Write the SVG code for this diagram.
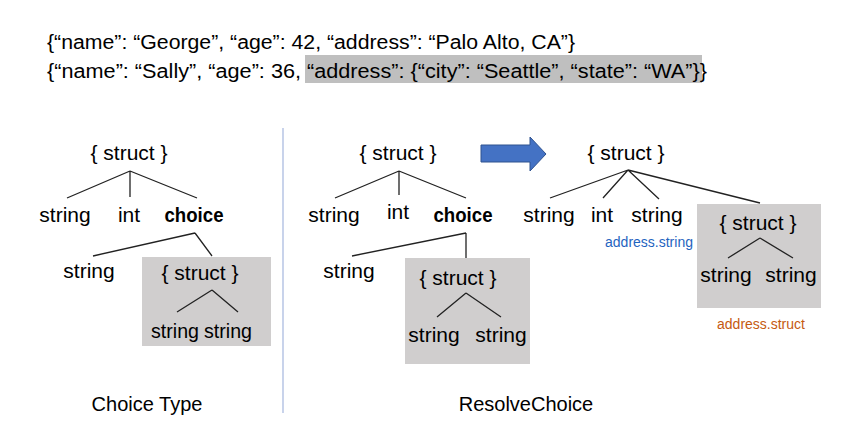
<svg xmlns="http://www.w3.org/2000/svg" width="863" height="442" viewBox="0 0 863 442">
<style>
text{font-family:"Liberation Sans",Arial,sans-serif;fill:#000}
.n{font-size:21px;text-anchor:middle}
.b{font-weight:bold}
.top{font-size:20px}
.lab{font-size:20px;text-anchor:middle}
.ann{font-size:14px;text-anchor:middle}
.box{fill:#D0CECE}
.ln{stroke:#222;stroke-width:1.3;fill:none}
</style>
<rect width="863" height="442" fill="#fff"/>
<g id="json">
<rect x="305" y="55" width="397" height="28" fill="#BFBFBF"/>
<text class="top" x="47" y="49" textLength="528" lengthAdjust="spacingAndGlyphs">{“name”: “George”, “age”: 42, “address”: “Palo Alto, CA”}</text>
<text class="top" x="47" y="78" textLength="660" lengthAdjust="spacingAndGlyphs">{“name”: “Sally”, “age”: 36, “address”: {“city”: “Seattle”, “state”: “WA”}}</text>
</g>
<line id="divider" x1="283" y1="128" x2="283" y2="413" stroke="#A4B6DE" stroke-width="1.2"/>
<g id="left-tree">
<g id="l-root"><text class="n" x="129" y="160">{ struct }</text></g>
<g id="l-string"><text class="n" x="65" y="222">string</text></g>
<g id="l-int"><text class="n" x="129" y="222">int</text></g>
<g id="l-choice"><text class="n b" x="194" y="222" textLength="59" lengthAdjust="spacingAndGlyphs">choice</text></g>
<g id="l-string2"><text class="n" x="89" y="278">string</text></g>
<g id="l-struct">
<rect class="box" x="142" y="257" width="129" height="89"/>
<text class="n" x="200" y="280">{ struct }</text>
<text class="n" x="175" y="338" textLength="48" lengthAdjust="spacingAndGlyphs">string</text>
<text class="n" x="228" y="338" textLength="48" lengthAdjust="spacingAndGlyphs">string</text>
</g>
</g>
<g id="mid-tree">
<g id="m-root"><text class="n" x="398" y="160">{ struct }</text></g>
<g id="m-string"><text class="n" x="334" y="222">string</text></g>
<g id="m-int"><text class="n" x="398" y="219">int</text></g>
<g id="m-choice"><text class="n b" x="463" y="222" textLength="59" lengthAdjust="spacingAndGlyphs">choice</text></g>
<g id="m-string2"><text class="n" x="349" y="278">string</text></g>
<g id="m-struct">
<rect class="box" x="405" y="258" width="125" height="106"/>
<text class="n" x="458" y="285">{ struct }</text>
<text class="n" x="434" y="342">string</text>
<text class="n" x="501" y="342">string</text>
</g>
</g>
<g id="arrow">
<polygon points="481,145 530,145 530,137 546,154 530,171 530,162 481,162" fill="#4472C4" stroke="#2F528F" stroke-width="1"/>
</g>
<g id="right-tree">
<g id="r-root"><text class="n" x="626" y="160">{ struct }</text></g>
<g id="r-string"><text class="n" x="549" y="222">string</text></g>
<g id="r-int"><text class="n" x="602" y="222">int</text></g>
<g id="r-string2"><text class="n" x="657" y="222">string</text>
<text class="ann" x="649" y="247" style="fill:#1F64C0">address.string</text></g>
<g id="r-struct">
<rect class="box" x="697" y="204" width="124" height="104"/>
<text class="n" x="758" y="230">{ struct }</text>
<text class="n" x="726" y="282">string</text>
<text class="n" x="791" y="282">string</text>
<text class="ann" x="761" y="329" style="fill:#C55A11">address.struct</text>
</g>
</g>
<g id="labels">
<text class="lab" x="147" y="411">Choice Type</text>
<text class="lab" x="526" y="411">ResolveChoice</text>
</g>
<g id="connectors" class="ln">
<path d="M130,171 L67,198 M130,171 L130,197 M130,171 L197,198 M195,233 L93,256 M195,233 L212,256 M212,290 L177,312 M212,290 L238,312"/>
<path d="M399,171 L335,198 M399,171 L399,195 M399,171 L466,198 M466,233 L352,256 M466,233 L466,258 M466,293 L437,317 M466,293 L501,317"/>
<path d="M628,170 L550,198 M628,170 L603,198 M628,170 L659,199 M628,170 L760,203 M760,238 L728,258 M760,238 L793,258"/>
</g>
</svg>
